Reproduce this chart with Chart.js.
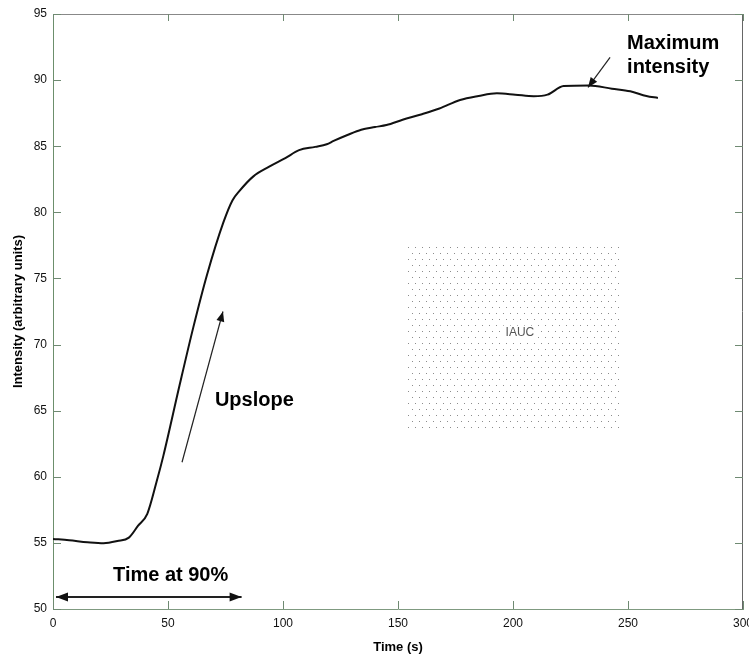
<!DOCTYPE html>
<html>
<head>
<meta charset="utf-8">
<title>Intensity curve</title>
<script src="https://cdn.jsdelivr.net/npm/chart.js"></script>
<style>
  body { margin: 0; background: #fff; }
  #wrap { width: 749px; height: 655px; position: relative; }
</style>
</head>
<body>
<div id="wrap"><canvas id="kurvaChart"></canvas></div>
<script>
// data
const waktu = [0, 7, 15, 22, 28, 33, 37, 41, 45, 48, 55, 61, 67, 74, 78, 81, 87, 94, 101, 107,
  114, 119, 122, 128, 134, 140, 145, 152, 160, 168, 177, 185, 193, 201, 209, 215, 222, 233, 243, 251, 258, 263];
const intensitas = [55.3, 55.2, 55.05, 54.97, 55.14, 55.4, 56.3, 57.2, 59.6, 61.6, 66.9, 71.3, 75.3, 79.2, 80.9, 81.6,
  82.7, 83.45, 84.1, 84.7, 84.95, 85.15, 85.4, 85.85, 86.25, 86.45, 86.6, 87.0, 87.4, 87.85, 88.5, 88.8, 89.0, 88.9,
  88.78, 88.9, 89.55, 89.6, 89.35, 89.15, 88.8, 88.65];
const xTicks = [0, 50, 100, 150, 200, 250, 300];
const yTicks = [50, 55, 60, 65, 70, 75, 80, 85, 90, 95];

const FONT = '"Liberation Sans", Arial, sans-serif';

function panah(ctx, x1, y1, x2, y2, len, lebar, duaArah) {
    ctx.beginPath();
    ctx.moveTo(x1, y1);
    ctx.lineTo(x2, y2);
    ctx.stroke();
    const kepala = (xa, ya, xb, yb) => {
        const ang = Math.atan2(yb - ya, xb - xa);
        ctx.beginPath();
        ctx.moveTo(xb, yb);
        ctx.lineTo(xb - len * Math.cos(ang) + lebar * Math.sin(ang), yb - len * Math.sin(ang) - lebar * Math.cos(ang));
        ctx.lineTo(xb - len * Math.cos(ang) - lebar * Math.sin(ang), yb - len * Math.sin(ang) + lebar * Math.cos(ang));
        ctx.closePath();
        ctx.fill();
    };
    kepala(x1, y1, x2, y2);
    if (duaArah) kepala(x2, y2, x1, y1);
}

/**
 * Plugin: kotak IAUC, teks, panah, tick ke dalam, dan garis atas/kanan
 */
const annotasi = {
    id: 'annotasi',
    beforeDatasetsDraw(chart) {
        const { ctx, scales: { x, y } } = chart;
        // kotak titik-titik IAUC
        const l = x.getPixelForValue(153.5), r = x.getPixelForValue(246.5);
        const t = y.getPixelForValue(77.5), b = y.getPixelForValue(63.4);
        ctx.save();
        ctx.fillStyle = '#8c8c8c';
        let baris = 0;
        for (let py = t + 2; py < b; py += 6) {
            const geser = (baris % 2) ? 3.5 : 0;
            for (let px = l + 2 + geser; px < r; px += 7) {
                ctx.fillRect(Math.round(px), Math.round(py), 1, 1);
            }
            baris++;
        }
        ctx.fillStyle = '#fff';
        ctx.fillRect(x.getPixelForValue(203) - 17, y.getPixelForValue(70.9) - 7, 34, 14);
        ctx.fillStyle = '#555';
        ctx.font = '12px ' + FONT;
        ctx.textAlign = 'center';
        ctx.textBaseline = 'middle';
        ctx.fillText('IAUC', x.getPixelForValue(203), y.getPixelForValue(70.9));
        ctx.restore();
    },
    afterDraw(chart) {
        const { ctx, chartArea: a, scales: { x, y } } = chart;
        ctx.save();
        // garis atas dan kanan
        ctx.lineWidth = 1;
        ctx.strokeStyle = '#888';
        ctx.beginPath();
        ctx.moveTo(a.left, a.top + 0.5);
        ctx.lineTo(a.right, a.top + 0.5);
        ctx.stroke();
        ctx.strokeStyle = '#666';
        ctx.beginPath();
        ctx.moveTo(a.right - 0.5, a.top);
        ctx.lineTo(a.right - 0.5, a.bottom);
        ctx.stroke();

        // tick ke dalam
        ctx.strokeStyle = '#6f8a72';
        xTicks.forEach(v => {
            const px = Math.round(x.getPixelForValue(v)) + 0.5;
            ctx.beginPath();
            ctx.moveTo(px, a.bottom); ctx.lineTo(px, a.bottom - 8);
            ctx.moveTo(px, a.top); ctx.lineTo(px, a.top + 7);
            ctx.stroke();
        });
        yTicks.forEach(v => {
            const py = Math.round(y.getPixelForValue(v)) + 0.5;
            ctx.beginPath();
            ctx.moveTo(a.left, py); ctx.lineTo(a.left + 8, py);
            ctx.moveTo(a.right, py); ctx.lineTo(a.right - 8, py);
            ctx.stroke();
        });

        // teks tebal
        ctx.fillStyle = '#000';
        ctx.font = 'bold 20px ' + FONT;
        ctx.textAlign = 'left';
        ctx.textBaseline = 'middle';
        ctx.fillText('Upslope', x.getPixelForValue(70.4), y.getPixelForValue(65.8));
        ctx.fillText('Time at 90%', x.getPixelForValue(26.1), y.getPixelForValue(52.57));
        ctx.fillText('Maximum', x.getPixelForValue(249.6), y.getPixelForValue(92.8));
        ctx.fillText('intensity', x.getPixelForValue(249.6), y.getPixelForValue(90.95));

        // panah
        ctx.strokeStyle = '#222';
        ctx.fillStyle = '#111';
        ctx.lineWidth = 1.2;
        panah(ctx, x.getPixelForValue(56.1), y.getPixelForValue(61.1), x.getPixelForValue(73.9), y.getPixelForValue(72.5), 10, 4, false);
        panah(ctx, x.getPixelForValue(242.2), y.getPixelForValue(91.72), x.getPixelForValue(232.6), y.getPixelForValue(89.45), 10, 4, false);
        ctx.lineWidth = 2;
        panah(ctx, x.getPixelForValue(1.3), y.getPixelForValue(50.9), x.getPixelForValue(82), y.getPixelForValue(50.9), 12, 4.5, true);
        ctx.restore();
    }
};

document.addEventListener('DOMContentLoaded', function() {
    const canvas = document.getElementById('kurvaChart');
    new Chart(canvas.getContext('2d'), {
        type: 'line',
        data: {
            datasets: [{
                label: 'Intensity',
                data: waktu.map((t, i) => ({ x: t, y: intensitas[i] })),
                borderColor: '#111',
                borderWidth: 2,
                pointRadius: 0,
                cubicInterpolationMode: 'monotone',
                fill: false
            }]
        },
        options: {
            responsive: true,
            maintainAspectRatio: false,
            animation: false,
            layout: { padding: { top: 14, right: 6, left: 0, bottom: 0 } },
            plugins: { legend: { display: false }, tooltip: { enabled: false } },
            scales: {
                x: {
                    type: 'linear',
                    min: 0, max: 300,
                    afterBuildTicks: s => { s.ticks = xTicks.map(v => ({ value: v })); },
                    afterFit: s => { s.height = 46; s.paddingRight = 0; s.paddingLeft = 0; },
                    grid: { display: false, drawTicks: false },
                    border: { display: true, color: '#7f9a80', width: 1 },
                    ticks: { color: '#111', padding: 7, font: { family: FONT, size: 12 }, maxRotation: 0 },
                    title: {
                        display: true, text: 'Time (s)', color: '#000',
                        font: { family: FONT, size: 13, weight: 'bold' }, padding: { top: 2, bottom: 0 }
                    }
                },
                y: {
                    min: 50, max: 95,
                    afterBuildTicks: s => { s.ticks = yTicks.map(v => ({ value: v })); },
                    afterFit: s => { s.width = 53; },
                    grid: { display: false, drawTicks: false },
                    border: { display: true, color: '#6c8f6c', width: 1 },
                    ticks: { color: '#111', padding: 6, font: { family: FONT, size: 12 } },
                    title: {
                        display: true, text: 'Intensity (arbitrary units)', color: '#000',
                        font: { family: FONT, size: 13, weight: 'bold' }, padding: { top: 11, bottom: 0 }
                    }
                }
            }
        },
        plugins: [annotasi]
    });
});
</script>
</body>
</html>
